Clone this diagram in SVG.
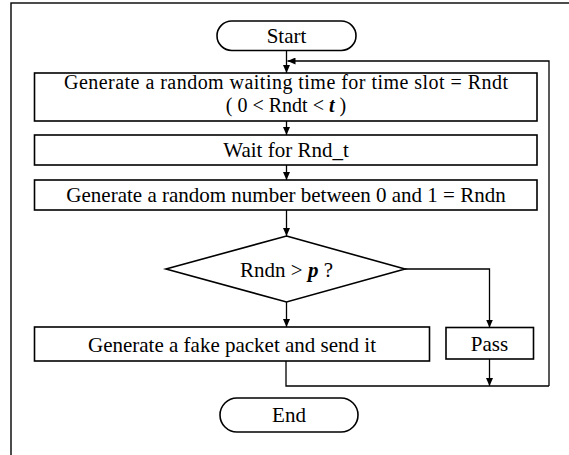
<svg xmlns="http://www.w3.org/2000/svg" width="569" height="455" viewBox="0 0 569 455">
<style>
.box{fill:#fff;stroke:#000;stroke-width:1.6}
.frame{fill:none;stroke:#000;stroke-width:1.4}
.edge{fill:none;stroke:#000;stroke-width:1.3}
text{font-family:"Liberation Serif","Times New Roman",serif;font-size:21px;fill:#000;text-anchor:middle}
.sm{font-size:20px}
.bi{font-weight:bold;font-style:italic}
</style>
<defs>
<marker id="arr" markerUnits="userSpaceOnUse" markerWidth="9" markerHeight="7" refX="8" refY="3.5" orient="auto">
<path d="M0,0 L8,3.5 L0,7 z" fill="#000"/>
</marker>
</defs>
<rect width="569" height="455" fill="#fff"/>
<rect class="frame" x="11" y="3" width="600" height="500"/>
<g id="connectors">
<path class="edge" d="M286.5,51 V73" marker-end="url(#arr)"/>
<path class="edge" d="M549,386 V61 H287.5" marker-end="url(#arr)"/>
<path class="edge" d="M286.5,121 V135" marker-end="url(#arr)"/>
<path class="edge" d="M286.5,165 V180" marker-end="url(#arr)"/>
<path class="edge" d="M286.5,210 V236" marker-end="url(#arr)"/>
<path class="edge" d="M286.5,302 V327" marker-end="url(#arr)"/>
<path class="edge" d="M405,269 H489.5 V327.5" marker-end="url(#arr)"/>
<path class="edge" d="M489.5,359 V386" marker-end="url(#arr)"/>
<path class="edge" d="M286,361 V386 H549"/>
</g>
<g id="start">
<rect class="box" x="217" y="21" width="139" height="29.5" rx="14.75"/>
<text x="286.5" y="43">Start</text>
</g>
<g id="gen-wait">
<rect class="box" x="34.5" y="73" width="502.5" height="48"/>
<text class="sm" x="286" y="88.5" textLength="444" lengthAdjust="spacing">Generate a random waiting time for time slot = Rndt</text>
<text class="sm" x="286" y="111.5">( 0 &lt; Rndt &lt; <tspan class="bi">t</tspan> )</text>
</g>
<g id="wait">
<rect class="box" x="34.5" y="135" width="502.5" height="30"/>
<text x="286" y="157">Wait for Rnd_t</text>
</g>
<g id="gen-num">
<rect class="box" x="34.5" y="180" width="502.5" height="30"/>
<text x="286" y="201.5">Generate a random number between 0 and 1 = Rndn</text>
</g>
<g id="decision">
<polygon class="box" points="286.5,236 405,269 286.5,302 166,269"/>
<text x="286.5" y="276.5">Rndn &gt; <tspan class="bi">p</tspan> ?</text>
</g>
<g id="fake">
<rect class="box" x="34.5" y="327" width="395" height="34"/>
<text x="232" y="351.5">Generate a fake packet and send it</text>
</g>
<g id="pass">
<rect class="box" x="446" y="327.5" width="87.5" height="31.5"/>
<text x="489.5" y="351">Pass</text>
</g>
<g id="end">
<rect class="box" x="220" y="398" width="138" height="34" rx="17"/>
<text x="289" y="422">End</text>
</g>
</svg>
